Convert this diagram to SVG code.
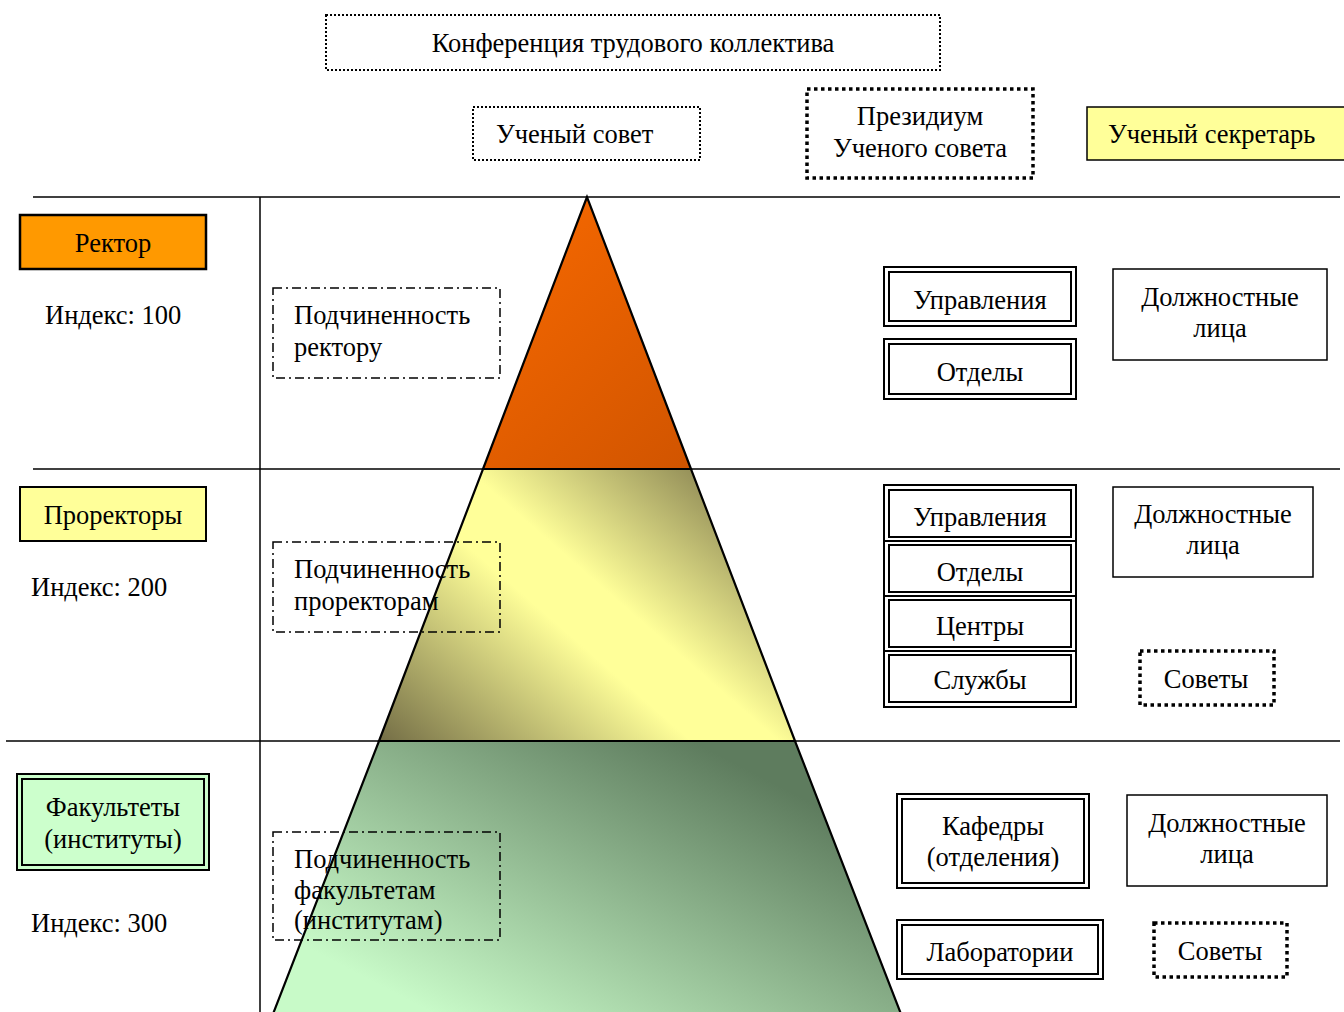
<svg xmlns="http://www.w3.org/2000/svg" width="1344" height="1012" viewBox="0 0 1344 1012">
<defs>
<style>
text{font-family:"Liberation Serif","Times New Roman",serif;font-size:26.5px;fill:#000}
.c{text-anchor:middle}
.dot{fill:none;stroke:#000;stroke-width:2;stroke-dasharray:2 2}
.dotb{fill:none;stroke:#000;stroke-width:3.5;stroke-dasharray:3.5 3.5}
.dd{fill:none;stroke:#000;stroke-width:1.5;stroke-dasharray:9 4 2 4}
.o{fill:none;stroke:#000;stroke-width:2}
.i{fill:none;stroke:#000;stroke-width:2}
.s{fill:none;stroke:#000;stroke-width:1.5}
.ln{stroke:#000;stroke-width:1.5}
.py{stroke:#000;stroke-width:2.2;stroke-linejoin:miter}
</style>
<linearGradient id="gTop" gradientUnits="userSpaceOnUse" x1="500" y1="260" x2="700" y2="469">
<stop offset="0" stop-color="#F26600"/><stop offset="1" stop-color="#D05400"/>
</linearGradient>
<linearGradient id="gMid" gradientUnits="userSpaceOnUse" x1="430" y1="785" x2="699" y2="476">
<stop offset="0" stop-color="#746E46"/><stop offset="0.5" stop-color="#FFFF99"/><stop offset="0.64" stop-color="#FFFF99"/><stop offset="1" stop-color="#96915A"/>
</linearGradient>
<linearGradient id="gBot" gradientUnits="userSpaceOnUse" x1="687" y1="684" x2="465" y2="1111">
<stop offset="0.1" stop-color="#5E7C5E"/><stop offset="0.85" stop-color="#C8FAC8"/>
</linearGradient>
</defs>
<rect width="1344" height="1012" fill="#fff"/>

<g id="pyramid">
<polygon class="py" points="587,197 483,469 691,469" fill="url(#gTop)"/>
<polygon class="py" points="483,469 691,469 795,741 379,741" fill="url(#gMid)"/>
<polygon class="py" points="379,741 795,741 901,1014 273,1014" fill="url(#gBot)"/>
</g>

<g id="connectors">
<line class="ln" x1="33" y1="197" x2="1340" y2="197"/>
<line class="ln" x1="33" y1="469" x2="1340" y2="469"/>
<line class="ln" x1="6" y1="741" x2="1340" y2="741"/>
<line class="ln" x1="260" y1="197" x2="260" y2="1012"/>
</g>

<g id="konf"><rect class="dot" x="326" y="15" width="614" height="55"/><text class="c" x="633" y="52">Конференция трудового коллектива</text></g>
<g id="sovet"><rect class="dot" x="473" y="107" width="227" height="53"/><text x="496" y="143">Ученый совет</text></g>
<g id="prez"><rect class="dotb" x="807" y="89" width="226" height="89"/><text class="c" x="920" y="125">Президиум</text><text class="c" x="920" y="157">Ученого совета</text></g>
<g id="sekr"><rect x="1087" y="107" width="262" height="53" fill="#FFFF99" stroke="#000" stroke-width="1.5"/><text x="1108" y="143">Ученый секретарь</text></g>

<g id="rektor"><rect x="20" y="215" width="186" height="54" fill="#FF9900" stroke="#000" stroke-width="2.5"/><text class="c" x="113" y="252">Ректор</text></g>
<g id="idx100"><text x="45" y="324">Индекс: 100</text></g>
<g id="podr"><rect class="dd" x="273" y="288" width="227" height="90"/><text x="294" y="324">Подчиненность</text><text x="294" y="356">ректору</text></g>
<g id="upr1"><rect class="o" x="884" y="267" width="192" height="59"/><rect class="i" x="889" y="272" width="182" height="49"/><text class="c" x="980" y="309">Управления</text></g>
<g id="otd1"><rect class="o" x="884" y="339" width="192" height="60"/><rect class="i" x="889" y="344" width="182" height="50"/><text class="c" x="980" y="381">Отделы</text></g>
<g id="dl1"><rect class="s" x="1113" y="269" width="214" height="91"/><text class="c" x="1220" y="306">Должностные</text><text class="c" x="1220" y="337">лица</text></g>

<g id="prorektor"><rect x="20" y="487" width="186" height="54" fill="#FFFF99" stroke="#000" stroke-width="2"/><text class="c" x="113" y="524">Проректоры</text></g>
<g id="idx200"><text x="31" y="596">Индекс: 200</text></g>
<g id="podp"><rect class="dd" x="273" y="542" width="227" height="90"/><text x="294" y="578">Подчиненность</text><text x="294" y="610">проректорам</text></g>
<g id="upr2"><rect class="o" x="884" y="485" width="192" height="56"/><rect class="i" x="889" y="490" width="182" height="47"/><text class="c" x="980" y="526">Управления</text></g>
<g id="otd2"><rect class="o" x="884" y="541" width="192" height="55"/><rect class="i" x="889" y="545" width="182" height="47"/><text class="c" x="980" y="581">Отделы</text></g>
<g id="centr"><rect class="o" x="884" y="596" width="192" height="55"/><rect class="i" x="889" y="600" width="182" height="47"/><text class="c" x="980" y="635">Центры</text></g>
<g id="sluzh"><rect class="o" x="884" y="651" width="192" height="56"/><rect class="i" x="889" y="655" width="182" height="47"/><text class="c" x="980" y="689">Службы</text></g>
<g id="dl2"><rect class="s" x="1113" y="487" width="200" height="90"/><text class="c" x="1213" y="523">Должностные</text><text class="c" x="1213" y="554">лица</text></g>
<g id="sov2"><rect class="dotb" x="1140" y="651" width="134" height="54"/><text class="c" x="1206" y="688">Советы</text></g>

<g id="fak"><rect x="17" y="774" width="192" height="96" fill="#CCFFCC" stroke="#000" stroke-width="2"/><rect class="i" x="22" y="779" width="182" height="86"/><text class="c" x="113" y="816">Факультеты</text><text class="c" x="113" y="848">(институты)</text></g>
<g id="idx300"><text x="31" y="932">Индекс: 300</text></g>
<g id="podf"><rect class="dd" x="273" y="832" width="227" height="108"/><text x="294" y="868">Подчиненность</text><text x="294" y="899">факультетам</text><text x="294" y="929">(институтам)</text></g>
<g id="kaf"><rect class="o" x="897" y="794" width="192" height="94"/><rect class="i" x="902" y="799" width="182" height="84"/><text class="c" x="993" y="835">Кафедры</text><text class="c" x="993" y="866">(отделения)</text></g>
<g id="dl3"><rect class="s" x="1127" y="795" width="200" height="91"/><text class="c" x="1227" y="832">Должностные</text><text class="c" x="1227" y="863">лица</text></g>
<g id="lab"><rect class="o" x="897" y="920" width="206" height="59"/><rect class="i" x="902" y="925" width="196" height="49"/><text class="c" x="1000" y="961">Лаборатории</text></g>
<g id="sov3"><rect class="dotb" x="1154" y="923" width="133" height="54"/><text class="c" x="1220" y="960">Советы</text></g>
</svg>
